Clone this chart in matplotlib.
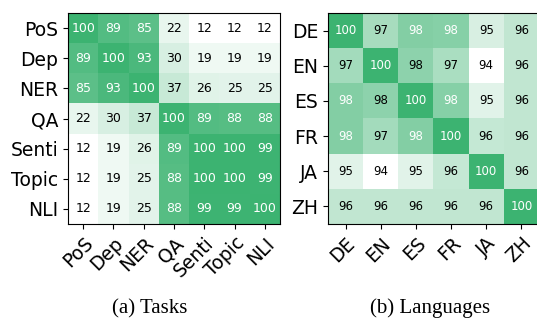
import matplotlib
matplotlib.use("Agg")
import matplotlib.pyplot as plt
import numpy as np
from matplotlib.colors import LinearSegmentedColormap

# Data
taskLabels = ["PoS", "Dep", "NER", "QA", "Senti", "Topic", "NLI"]
taskValues = [
    [100, 89, 85, 22, 12, 12, 12],
    [89, 100, 93, 30, 19, 19, 19],
    [85, 93, 100, 37, 26, 25, 25],
    [22, 30, 37, 100, 89, 88, 88],
    [12, 19, 26, 89, 100, 100, 99],
    [12, 19, 25, 88, 100, 100, 99],
    [12, 19, 25, 88, 99, 99, 100],
]

langLabels = ["DE", "EN", "ES", "FR", "JA", "ZH"]
langValues = [
    [100.0, 96.7, 97.8, 97.7, 95.2, 95.9],
    [96.8, 100.0, 97.5, 96.6, 94.0, 95.9],
    [97.8, 97.5, 100.0, 97.7, 94.9, 95.9],
    [97.8, 96.8, 97.8, 100.0, 95.8, 95.9],
    [94.9, 94.0, 94.9, 95.8, 100.0, 95.9],
    [95.9, 95.9, 95.9, 95.9, 95.9, 100.0],
]

captions = ["(a) Tasks", "(b) Languages"]

# white -> medium sea green
greenMap = LinearSegmentedColormap.from_list("wg", ["#ffffff", "#3cb371"])


def drawHeatmap(ax, values, labels, annotSize) -> None:
    values = np.array(values, dtype=float)
    im = ax.imshow(values, cmap=greenMap, aspect="auto",
                   vmin=values.min(), vmax=values.max())
    ax.set_xticks(np.arange(len(labels)))
    ax.set_yticks(np.arange(len(labels)))
    ax.set_xticklabels(labels, rotation=45, ha="right", rotation_mode="anchor")
    ax.set_yticklabels(labels)
    ax.tick_params(labelsize=13.5)
    for i in range(values.shape[0]):
        for j in range(values.shape[1]):
            color = "white" if im.norm(values[i, j]) > 0.6 else "black"
            ax.text(j, i, "%.0f" % values[i, j], ha="center", va="center",
                    color=color, fontsize=annotSize)
    return


fig = plt.figure(figsize=(5.37, 3.18), dpi=100)

axLeft = fig.add_axes([68 / 537, 94 / 318, 212 / 537, 211 / 318])
drawHeatmap(axLeft, taskValues, taskLabels, 9)

axRight = fig.add_axes([328 / 537, 94 / 318, 211 / 537, 211 / 318])
drawHeatmap(axRight, langValues, langLabels, 8.5)

# captions under each panel
fig.text(150 / 537, 5 / 318, captions[0], ha="center", va="baseline",
         family="Liberation Serif", fontsize=15)
fig.text(430 / 537, 5 / 318, captions[1], ha="center", va="baseline",
         family="Liberation Serif", fontsize=15)

plt.savefig("out.png", dpi=100)
